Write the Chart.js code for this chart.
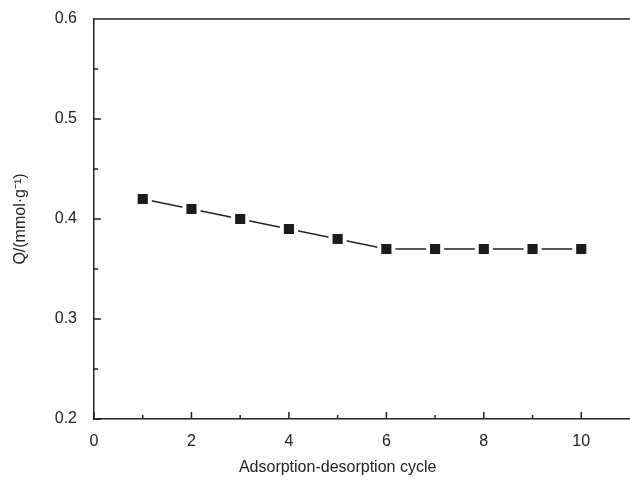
<!DOCTYPE html>
<html>
<head>
<meta charset="utf-8">
<script src="https://cdn.jsdelivr.net/npm/chart.js@4"></script>
<style>
  html, body { margin: 0; padding: 0; background: #fff; overflow: hidden; }
  #wrap { width: 630px; height: 483px; position: relative; }
  canvas { display: block; }
</style>
</head>
<body>
<div id="wrap"><canvas id="grafico"></canvas></div>
<script>
// datos
const ciclos = [1, 2, 3, 4, 5, 6, 7, 8, 9, 10];
const capacidad = [0.42, 0.41, 0.40, 0.39, 0.38, 0.37, 0.37, 0.37, 0.37, 0.37];
const ticksX = [0, 2, 4, 6, 8, 10];
const menoresX = [1, 3, 5, 7, 9];
const ticksY = [0.2, 0.3, 0.4, 0.5, 0.6];
const menoresY = [0.25, 0.35, 0.45, 0.55];

const tituloX = 'Adsorption-desorption cycle';
const tituloY = 'Q/(mmol·g⁻¹)';

const tinta = '#222';
const fuente = '"Liberation Sans", Arial, sans-serif';

// marcas hacia dentro, linea superior y titulo del eje x
const marcas = {
    id: 'marcas',
    afterDraw(chart) {
        const ctx = chart.ctx;
        const a = chart.chartArea;
        const x = chart.scales.x;
        const y = chart.scales.y;
        ctx.save();
        ctx.strokeStyle = tinta;
        ctx.lineWidth = 1.5;
        ctx.beginPath();
        ctx.moveTo(a.left, a.top);
        ctx.lineTo(a.right, a.top);
        ticksX.forEach(v => {
            const px = x.getPixelForValue(v);
            ctx.moveTo(px, a.bottom);
            ctx.lineTo(px, a.bottom - 7);
        });
        menoresX.forEach(v => {
            const px = x.getPixelForValue(v);
            ctx.moveTo(px, a.bottom);
            ctx.lineTo(px, a.bottom - 4);
        });
        ticksY.forEach(v => {
            const py = y.getPixelForValue(v);
            ctx.moveTo(a.left, py);
            ctx.lineTo(a.left + 7, py);
        });
        menoresY.forEach(v => {
            const py = y.getPixelForValue(v);
            ctx.moveTo(a.left, py);
            ctx.lineTo(a.left + 4, py);
        });
        ctx.stroke();

        ctx.fillStyle = tinta;
        ctx.font = '16px ' + fuente;
        ctx.textAlign = 'center';
        ctx.textBaseline = 'middle';
        ctx.fillText(tituloX, x.getPixelForValue(5), 468);
        ctx.restore();
    }
};

new Chart(document.getElementById('grafico'), {
    type: 'line',
    data: {
        datasets: [{
            data: ciclos.map((c, i) => ({ x: c, y: capacidad[i] })),
            borderColor: tinta,
            borderWidth: 1.5,
            pointStyle: 'rect',
            pointRadius: 10,
            pointHoverRadius: 10,
            pointBackgroundColor: '#1e1a1b',
            pointBorderColor: '#fff',
            pointBorderWidth: 4,
            fill: false,
            tension: 0
        }]
    },
    options: {
        responsive: true,
        maintainAspectRatio: false,
        animation: false,
        layout: { autoPadding: false, padding: { top: 19, right: 0, left: 0, bottom: 0 } },
        plugins: {
            legend: { display: false },
            tooltip: { enabled: false }
        },
        scales: {
            x: {
                type: 'linear',
                min: 0,
                max: 11,
                afterBuildTicks: s => { s.ticks = ticksX.map(v => ({ value: v })); },
                afterFit: s => { s.height = 64; s.paddingLeft = 0; s.paddingRight = 0; },
                grid: { display: false, drawTicks: false },
                border: { color: tinta, width: 1.5 },
                ticks: {
                    color: tinta,
                    padding: 13,
                    font: { family: fuente, size: 16 }
                }
            },
            y: {
                min: 0.2,
                max: 0.6,
                afterBuildTicks: s => { s.ticks = ticksY.map(v => ({ value: v })); },
                afterFit: s => { s.width = 94; s.paddingTop = 0; s.paddingBottom = 0; },
                grid: { display: false, drawTicks: false },
                border: { color: tinta, width: 1.5 },
                title: {
                    display: true,
                    text: tituloY,
                    color: tinta,
                    padding: { top: 11, bottom: 0 },
                    font: { family: fuente, size: 16 }
                },
                ticks: {
                    color: tinta,
                    padding: 17,
                    callback: v => v.toFixed(1),
                    font: { family: fuente, size: 16 }
                }
            }
        }
    },
    plugins: [marcas]
});
</script>
</body>
</html>
